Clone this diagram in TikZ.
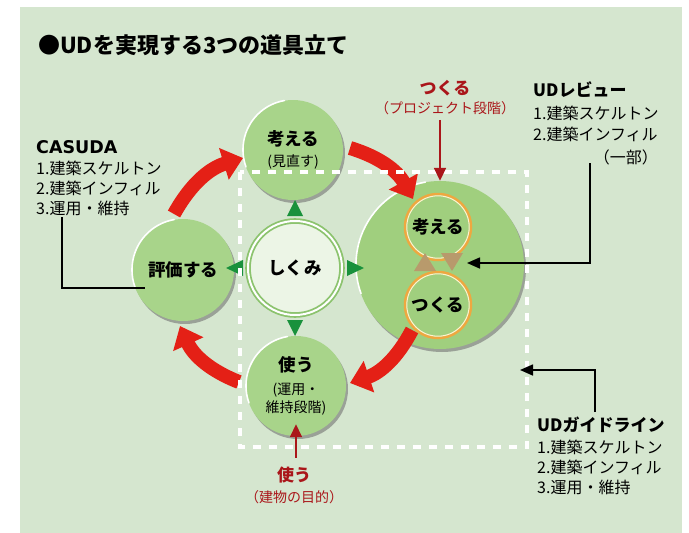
\documentclass[tikz,border=0pt]{standalone}
\usepackage{fontspec}
\setmainfont{Noto Sans CJK JP}
\newfontfamily\latinbold{DejaVu Sans}
\usetikzlibrary{arrows.meta,shadows,calc}
\definecolor{panel}{RGB}{213,230,207}
\definecolor{cg}{RGB}{168,212,138}
\definecolor{bigg}{RGB}{160,207,126}
\definecolor{shk}{RGB}{236,245,230}
\definecolor{ringg}{RGB}{140,195,110}
\definecolor{trig}{RGB}{25,145,60}
\definecolor{redA}{RGB}{228,32,22}
\definecolor{dred}{RGB}{170,22,26}
\definecolor{ringo}{RGB}{238,168,64}
\definecolor{cream}{RGB}{255,242,205}
\definecolor{tanc}{RGB}{184,154,108}
\newcommand\fsz[1]{\fontsize{#1}{#1}\selectfont}
\begin{document}
\begin{tikzpicture}[x=1pt,y=1pt,
  circ/.style={circle, fill=cg, minimum size=#1, inner sep=0pt, align=center,
    font=\fontsize{17.5}{21}\selectfont\bfseries,
    drop shadow={shadow xshift=2pt,shadow yshift=-3pt,fill=black!55,opacity=0.6}},
  ring/.style={circle, draw=ringo, line width=2.5pt, minimum size=66pt, inner sep=0pt, font=\fsz{17.5}\bfseries},
  hl/.style={white, line width=1.6pt, line cap=round},
  bigarrow/.style={draw=redA, line width=14pt, -{Triangle[length=20pt,width=32pt]}},
  thinred/.style={draw=dred, line width=1.6pt, -{Triangle[length=13pt,width=12pt]}},
  blk/.style={draw=black, line width=1.6pt},
  blkarrow/.style={blk, -{Triangle[length=13pt,width=11pt]}},
  lbl/.style={anchor=west, inner sep=0pt, font=\fsz{16}},
  hdr/.style={anchor=west, inner sep=0pt, font=\fsz{17}\bfseries},
  greentri/.style={fill=trig},
  tantri/.style={fill=tanc},
  dashrect/.style={draw=white, line width=4pt, dash pattern=on 8pt off 8pt},
]
\useasboundingbox (0,0) rectangle (689,-533);
\fill[white] (0,0) rectangle (689,-533);
\fill[panel] (20,-7) rectangle (682,-533);

% circles
\node[circ=100pt] (kangae) at (293,-150) {考える\\{\fsz{14}\mdseries (見直す)}};
\node[circ=102pt] (hyoka) at (183,-270) {評価する};
\node[circ=100pt] (tsukau) at (296,-386) {使う\\[2pt]{\fsz{14}\mdseries (運用・}\\[-3pt]{\fsz{14}\mdseries 維持段階)}};
\node[circ=168pt, fill=bigg] (big) at (440,-265) {};
\node[circle, fill=shk, draw=ringg, double=white, double distance=2pt, line width=1.8pt,
      minimum size=94pt, inner sep=0pt, font=\fsz{17.5}\bfseries] (shikumi) at (295,-268) {しくみ};

\draw[hl] (kangae.100) arc[start angle=100,end angle=200,radius=50];
\draw[hl] (hyoka.100) arc[start angle=100,end angle=200,radius=51];
\draw[hl] (tsukau.100) arc[start angle=100,end angle=200,radius=50];
\draw[hl] (big.100) arc[start angle=100,end angle=200,radius=84];

% rings in big circle
\node[ring] (rk) at (438,-227) {考える};
\node[ring] (rt) at (438,-305) {つくる};
\draw[cream, line width=1pt] (rk.center) circle (31.2);
\draw[cream, line width=1pt] (rt.center) circle (31.2);

% triangles
\fill[greentri] (287,-216) -- (303,-216) -- (295,-200) -- cycle;
\fill[greentri] (287,-320) -- (303,-320) -- (295,-336) -- cycle;
\fill[greentri] (243,-260) -- (243,-276) -- (226,-268) -- cycle;
\fill[greentri] (347,-260) -- (347,-276) -- (364,-268) -- cycle;
\fill[tantri] (414,-271) -- (436,-271) -- (425,-253) -- cycle;
\fill[tantri] (441,-253) -- (463,-253) -- (452,-271) -- cycle;

% big red arrows
\coordinate (a1s) at (174,-214); \coordinate (a1e) at (243,-158);
\coordinate (a2s) at (350,-148); \coordinate (a2e) at (413,-199);
\coordinate (a3s) at (412,-330); \coordinate (a3e) at (350,-383);
\coordinate (a4s) at (239,-382); \coordinate (a4e) at (180,-326);
\draw[bigarrow] (a1s) to[bend left=22] (a1e);
\draw[bigarrow] (a2s) to[bend left=22] (a2e);
\draw[bigarrow] (a3s) to[bend left=22] (a3e);
\draw[bigarrow] (a4s) to[bend left=22] (a4e);

% dashed frame
\draw[dashrect] (240,-172) rectangle (527,-447);

% title
\node[anchor=west, inner sep=0pt, font=\fsz{22}\bfseries] (title) at (38,-45) {●UDを実現する3つの道具立て};

% red labels
\node[font=\fsz{17}\bfseries, text=dred, inner sep=0pt] (tl1) at (445,-88) {つくる};
\node[font=\fsz{14}, text=dred, inner sep=0pt] (tl2) at (445,-108) {（プロジェクト段階）};
\draw[thinred] ($(tl2.south -| big.north)+(0,-5)$) -- (big.north);
\node[font=\fsz{17}\bfseries, text=dred, inner sep=0pt] (ul1) at (294,-475) {使う};
\node[font=\fsz{14}, text=dred, inner sep=0pt] (ul2) at (294,-497) {（建物の目的）};
\draw[thinred] ($(ul1.north -| tsukau.south)+(0,9)$) -- ($(tsukau.south)+(0,12)$);

% side texts
\node[hdr, font=\fsz{17.5}\latinbold\bfseries] (cH) at (36,-147) {CASUDA};
\node[lbl] (c1) at (36,-168) {1.建築スケルトン};
\node[lbl] (c2) at (36,-188) {2.建築インフィル};
\node[lbl] (c3) at (36,-208) {3.運用・維持};

\node[hdr] (rH) at (533,-90) {UDレビュー};
\node[lbl] (r1) at (533,-113) {1.建築スケルトン};
\node[lbl] (r2) at (533,-134) {2.建築インフィル};
\node[lbl, anchor=east] (r3) at (658,-157) {（一部）};

\node[hdr] (gH) at (537,-425) {UDガイドライン};
\node[lbl] (g1) at (537,-447) {1.建築スケルトン};
\node[lbl] (g2) at (537,-467) {2.建築インフィル};
\node[lbl] (g3) at (537,-487) {3.運用・維持};

% black leader lines
\coordinate (cs1) at (62,-217); \coordinate (cs2) at (145,-288);
\draw[blk] (cs1) |- (cs2);
\coordinate (rv1) at (590,-163); \coordinate (rv2) at (467,-263);
\draw[blkarrow] (rv1) |- (rv2);
\coordinate (gl1) at (595,-412); \coordinate (gl2) at (520,-370);
\draw[blkarrow] (gl1) |- (gl2);
\end{tikzpicture}
\end{document}
